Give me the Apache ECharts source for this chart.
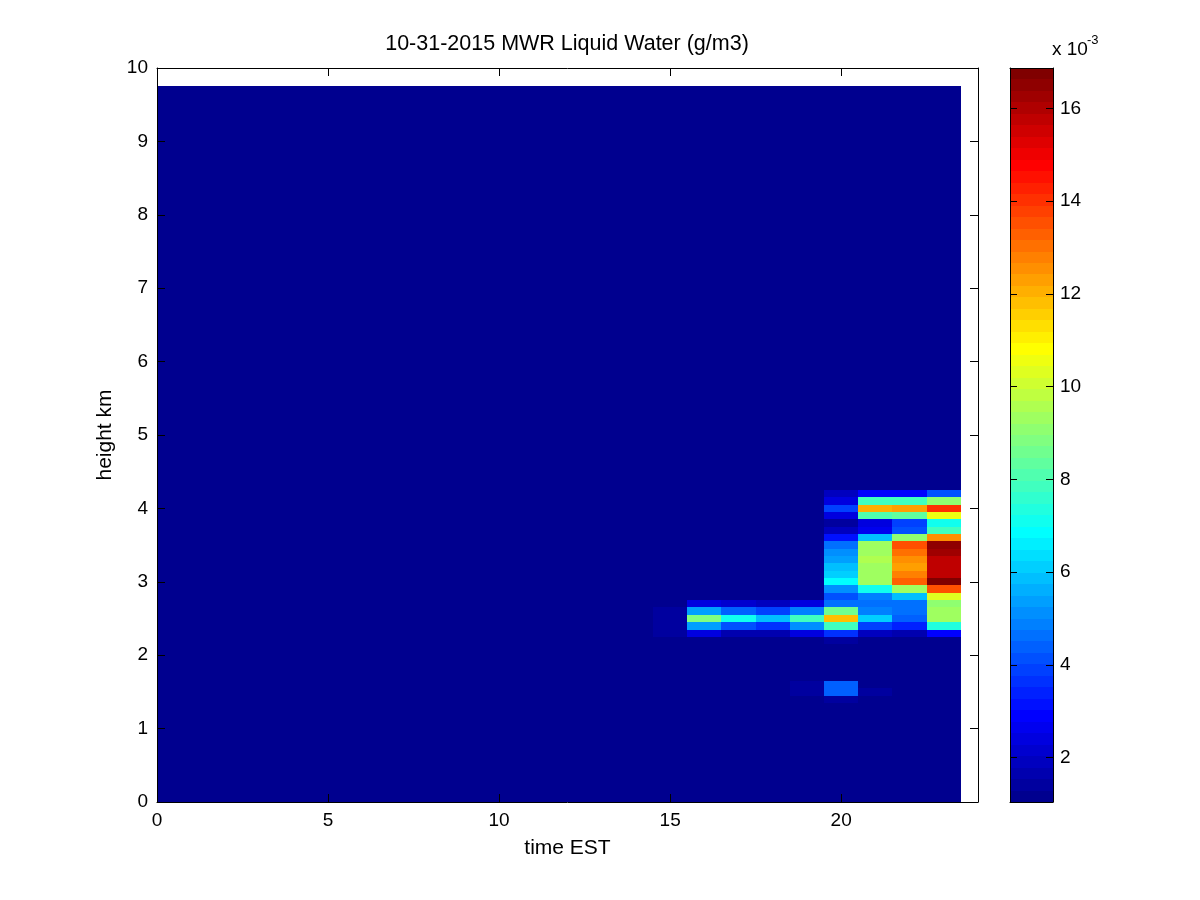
<!DOCTYPE html>
<html><head><meta charset="utf-8">
<script src="https://cdn.jsdelivr.net/npm/echarts@6/dist/echarts.min.js"></script>
<style>html,body{margin:0;padding:0;background:#fff}#chart{width:1200px;height:900px}</style>
</head><body><div id="chart"></div>
<script>
// ---------------- data ----------------
const times = [0,1,2,3,4,5,6,7,8,9,10,11,12,13,14,15,16,17,18,19,20,21,22,23]; // hours EST (column centres)
const heights = [0.0,0.1,0.2,0.3,0.4,0.5,0.6,0.7,0.8,0.9,1.0,1.1,1.2,1.3,1.4,1.5,1.6,1.7,1.8,1.9,
  2.0,2.1,2.2,2.3,2.4,2.5,2.6,2.7,2.8,2.9,3.0,3.1,3.2,3.3,3.4,3.5,3.6,3.7,3.8,3.9,
  4.0,4.1,4.2,4.3,4.4,4.5,4.6,4.7,4.8,4.9,5.0,5.1,5.2,5.3,5.4,5.5,5.6,5.7,5.8,5.9,
  6.0,6.1,6.2,6.3,6.4,6.5,6.6,6.7,6.8,6.9,7.0,7.1,7.2,7.3,7.4,7.5,7.6,7.7,7.8,7.9,
  8.0,8.1,8.2,8.3,8.4,8.5,8.6,8.7,8.8,8.9,9.0,9.1,9.2,9.3,9.4,9.5,9.6,9.7]; // km
const backgroundValue = 1.04; // x 10^-3 g/m3, everywhere outside the cloud
// cloud region, heights from top to bottom
const detailHeights = [4.3,4.2,4.1,4.0,3.9,3.8,3.7,3.6,3.5,3.4,3.3,3.2,3.1,3.0,2.9,2.8,2.7,2.6,2.5,2.4,2.3,2.2,2.1,2.0,1.9,1.8,1.7,1.6,1.5,1.4,1.3];
const B = backgroundValue;
const col15 = [B,B,B,B,B,B,B,B,B,B,B,B,B,B,B,B,B,1.3,1.3,1.3,1.3,B,B,B,B,B,B,B,B,B,B];
const col16 = [B,B,B,B,B,B,B,B,B,B,B,B,B,B,B,B,2.40,5.37,8.84,5.37,2.40,B,B,B,B,B,B,B,B,B,B];
const col17 = [B,B,B,B,B,B,B,B,B,B,B,B,B,B,B,B,2.15,4.38,7.0,4.13,1.78,B,B,B,B,B,B,B,B,B,B];
const col18 = [B,B,B,B,B,B,B,B,B,B,B,B,B,B,B,B,1.91,3.88,5.86,3.64,1.66,B,B,B,B,B,B,B,B,B,B];
const col19 = [B,B,B,B,B,B,B,B,B,B,B,B,B,B,B,B,2.40,4.87,7.84,5.12,2.40,B,B,B,B,B,B,1.5,1.3,B,B];
const col20 = [B,1.95,2.52,3.88,2.52,1.41,2.0,3.14,4.63,5.12,5.37,5.74,6.11,6.85,5.12,4.13,4.6,8.59,11.8,7.84,3.7,1.3,B,B,B,B,B,4.38,4.38,1.5,B];
const col21 = [B,2.89,7.84,12.05,8.09,2.40,2.65,5.86,9.33,9.33,9.45,9.33,9.33,9.33,7.1,4.87,4.63,4.9,6.11,3.88,1.91,B,B,B,B,B,B,B,1.3,B,B];
const col22 = [B,2.89,7.84,12.29,8.34,3.88,4.13,9.08,13.53,13.03,12.54,12.29,12.79,13.28,9.33,5.86,4.63,4.63,4.38,3.39,1.66,B,B,B,B,B,B,B,B,B,B];
const col23 = [B,4.13,9.08,14.02,10.57,7.10,7.84,12.54,16.6,16.29,15.8,15.67,15.8,16.87,13.53,10.32,9.08,9.33,9.33,7.35,2.95,B,B,B,B,B,B,B,B,B,B];
const detailColumns = {15: col15, 16: col16, 17: col17, 18: col18, 19: col19, 20: col20, 21: col21, 22: col22, 23: col23};
const xTickValues = [0,5,10,15,20];
const yTickValues = [0,1,2,3,4,5,6,7,8,9,10];
const colorbarTickValues = [2,4,6,8,10,12,14,16];
const colorMin = 1.04, colorMax = 16.87;

// ---------------- helpers ----------------
function jetRGB(j) { // MATLAB jet(64), j = 1..64
  const u = i => (i < 1 || i > 47) ? 0 : (i <= 16 ? i / 16 : (i <= 31 ? 1 : (48 - i) / 16));
  const c = x => Math.round(x * 255);
  return 'rgb(' + c(u(j - 24)) + ',' + c(u(j - 8)) + ',' + c(u(j + 8)) + ')';
}
function colorFor(v) {
  let j = Math.floor((v - colorMin) / (colorMax - colorMin) * 64) + 1;
  j = Math.max(1, Math.min(64, j));
  return jetRGB(j);
}
function lookup(t, h) {
  const col = detailColumns[t];
  if (!col) return backgroundValue;
  const idx = detailHeights.findIndex(d => Math.abs(d - h) < 1e-6);
  return idx < 0 ? backgroundValue : col[idx];
}
function edges(centres) {
  const e = [Math.max(0, centres[0] - (centres[1] - centres[0]) / 2)];
  for (let i = 0; i < centres.length - 1; i++) e.push((centres[i] + centres[i + 1]) / 2);
  e.push(centres[centres.length - 1] + (centres[centres.length - 1] - centres[centres.length - 2]) / 2);
  return e;
}
const tEdges = edges(times), hEdges = edges(heights);
const cells = [];
for (let i = 0; i < times.length; i++) {
  for (let j = 0; j < heights.length; j++) {
    cells.push([tEdges[i], tEdges[i + 1], hEdges[j], hEdges[j + 1], lookup(times[i], heights[j])]);
  }
}
const bands = [];
for (let k = 1; k <= 64; k++) {
  bands.push([colorMin + (k - 1) * (colorMax - colorMin) / 64, colorMin + k * (colorMax - colorMin) / 64, k]);
}

// ---------------- chart ----------------
const FONT = 'Liberation Sans, Arial, sans-serif';
const FS = 19;   // tick labels
const LFS = 21;  // axis labels
const TFS = 21.5; // title
const chart = echarts.init(document.getElementById('chart'), null, {renderer: 'canvas'});
const axisCommon = {
  axisLine: {show: true, onZero: false, lineStyle: {color: '#000', width: 1}},
  splitLine: {show: false},
  z: 5
};
chart.setOption({
  animation: false,
  backgroundColor: '#fff',
  grid: [
    {left: 157, top: 68, width: 821, height: 734, containLabel: false},
    {left: 1010, top: 68, width: 43, height: 734, containLabel: false}
  ],
  xAxis: [
    Object.assign({}, axisCommon, {type: 'value', gridIndex: 0, position: 'bottom', min: 0, max: 24,
      axisTick: {show: true, inside: true, length: 8, customValues: xTickValues, lineStyle: {color: '#000'}},
      axisLabel: {show: true, customValues: xTickValues, color: '#000', fontFamily: FONT, fontSize: FS, margin: 9},
      name: 'time EST', nameLocation: 'middle', nameGap: 36,
      nameTextStyle: {color: '#000', fontFamily: FONT, fontSize: LFS}}),
    Object.assign({}, axisCommon, {type: 'value', gridIndex: 0, position: 'top', min: 0, max: 24,
      axisTick: {show: true, inside: true, length: 8, customValues: xTickValues, lineStyle: {color: '#000'}},
      axisLabel: {show: false}}),
    Object.assign({}, axisCommon, {type: 'value', gridIndex: 1, position: 'bottom', min: 0, max: 1,
      axisTick: {show: false}, axisLabel: {show: false}}),
    Object.assign({}, axisCommon, {type: 'value', gridIndex: 1, position: 'top', min: 0, max: 1,
      axisTick: {show: false}, axisLabel: {show: false}})
  ],
  yAxis: [
    Object.assign({}, axisCommon, {type: 'value', gridIndex: 0, position: 'left', min: 0, max: 10, interval: 1,
      axisTick: {show: true, inside: true, length: 8, lineStyle: {color: '#000'}},
      axisLabel: {show: true, color: '#000', fontFamily: FONT, fontSize: FS, margin: 9},
      name: 'height km', nameLocation: 'middle', nameGap: 39, nameRotate: 90,
      nameTextStyle: {color: '#000', fontFamily: FONT, fontSize: LFS}}),
    Object.assign({}, axisCommon, {type: 'value', gridIndex: 0, position: 'right', min: 0, max: 10, interval: 1,
      axisTick: {show: true, inside: true, length: 8, lineStyle: {color: '#000'}},
      axisLabel: {show: false}}),
    Object.assign({}, axisCommon, {type: 'value', gridIndex: 1, position: 'right', min: colorMin, max: colorMax,
      axisTick: {show: true, inside: true, length: 7, customValues: colorbarTickValues, lineStyle: {color: '#000'}},
      axisLabel: {show: true, customValues: colorbarTickValues, color: '#000', fontFamily: FONT, fontSize: FS, margin: 7}}),
    Object.assign({}, axisCommon, {type: 'value', gridIndex: 1, position: 'left', min: colorMin, max: colorMax,
      axisTick: {show: true, inside: true, length: 7, customValues: colorbarTickValues, lineStyle: {color: '#000'}},
      axisLabel: {show: false}})
  ],
  series: [
    {
      type: 'custom', xAxisIndex: 0, yAxisIndex: 0, z: 2,
      encode: {x: [0, 1], y: [2, 3]},
      data: cells,
      renderItem: function (params, api) {
        const p0 = api.coord([api.value(0), api.value(3)]);
        const p1 = api.coord([api.value(1), api.value(2)]);
        const l = Math.round(p0[0]), t = Math.round(p0[1]);
        const r = Math.round(p1[0]), b = Math.round(p1[1]);
        return {type: 'rect', shape: {x: l, y: t, width: r - l, height: b - t},
          style: {fill: colorFor(api.value(4)), stroke: null}};
      }
    },
    {
      type: 'custom', xAxisIndex: 2, yAxisIndex: 2, z: 2,
      encode: {y: [0, 1]},
      data: bands,
      renderItem: function (params, api) {
        const p0 = api.coord([0, api.value(1)]);
        const p1 = api.coord([1, api.value(0)]);
        const l = Math.round(p0[0]), t = Math.round(p0[1]);
        const r = Math.round(p1[0]), b = Math.round(p1[1]);
        return {type: 'rect', shape: {x: l, y: t, width: r - l, height: b - t},
          style: {fill: jetRGB(api.value(2)), stroke: null}};
      }
    }
  ],
  graphic: [
    {type: 'text', x: 567, y: 44, style: {text: '10-31-2015 MWR Liquid Water (g/m3)', fill: '#000',
      font: TFS + 'px ' + FONT, textAlign: 'center', textVerticalAlign: 'middle'}, z: 10},
    {type: 'text', x: 1052, y: 50, style: {text: 'x 10', fill: '#000', font: FS + 'px ' + FONT,
      textAlign: 'left', textVerticalAlign: 'middle'}, z: 10},
    {type: 'text', x: 1087, y: 40, style: {text: '-3', fill: '#000', font: '13px ' + FONT,
      textAlign: 'left', textVerticalAlign: 'middle'}, z: 10}
  ]
});
</script>
</body></html>
